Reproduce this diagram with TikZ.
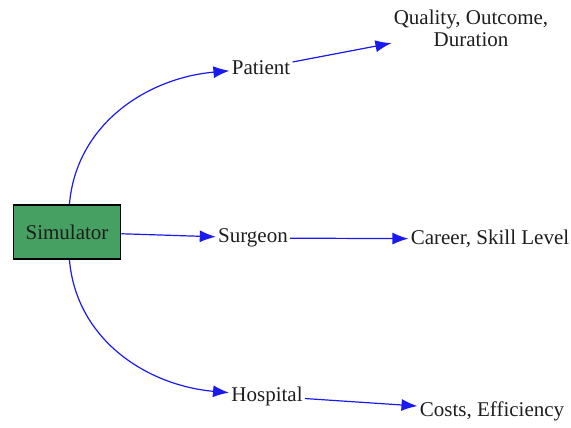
\documentclass[tikz,border=0pt]{standalone}
\usepackage{fontspec}
\setmainfont{Liberation Serif}
\usepackage{tikz}
\usetikzlibrary{arrows.meta, positioning}
\definecolor{simgreen}{HTML}{45A062}
\definecolor{linkblue}{HTML}{1A1AF0}
\definecolor{inktext}{HTML}{1E1E1E}

\begin{document}
\begin{tikzpicture}[
    x=0.5pt, y=-0.5pt,
    font=\fontsize{10.5}{11}\selectfont,
    simbox/.style={rectangle, draw=black, line width=0.9pt, fill=simgreen,
                   minimum width=53.5pt, minimum height=27pt, inner sep=0pt, text=inktext},
    lbl/.style={inner sep=1pt, text=inktext, align=center},
    link/.style={draw=linkblue, line width=0.6pt, -{Latex[length=8pt, width=6pt]}}
]
    \useasboundingbox (0,0) rectangle (571,427);
    \node[simbox] (sim) at (67,232) {Simulator};
    \node[lbl] (patient) at (261,68) {Patient};
    \node[lbl] (surgeon) at (253,238) {Surgeon};
    \node[lbl] (hospital) at (267,396) {Hospital};
    \node[lbl] (quality) at (471,28) {Quality, Outcome,\\Duration};
    \node[lbl] (career) at (490,239) {Career, Skill Level};
    \node[lbl] (costs) at (492,411) {Costs, Efficiency};

    \draw[link] (sim) to[out=85, in=185] (patient);
    \draw[link] (sim) -- (surgeon);
    \draw[link] (sim) to[out=-85, in=175] (hospital);
    \draw[link] (patient) -- (quality);
    \draw[link] (surgeon) -- (career);
    \draw[link] (hospital) -- (costs);
\end{tikzpicture}
\end{document}
